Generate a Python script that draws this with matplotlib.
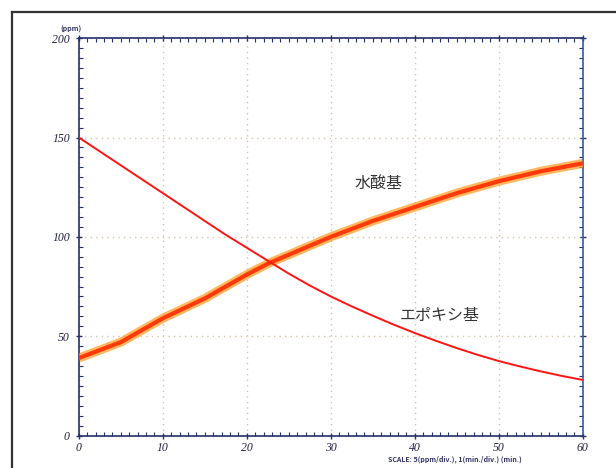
import matplotlib
matplotlib.use("Agg")
import matplotlib.pyplot as plt
from matplotlib.lines import Line2D
from matplotlib.ticker import MultipleLocator

plt.rcParams['font.family'] = ['Noto Sans CJK JP', 'DejaVu Sans']

# Reaction time (min.) and concentrations
time_min = [0, 2.5, 5, 7.5, 10, 12.5, 15, 17.5, 20, 22.5, 25, 27.5, 30,
            32.5, 35, 37.5, 40, 42.5, 45, 47.5, 50, 52.5, 55, 57.5, 60]
epoxy = [150, 143, 136, 129, 122, 115, 108, 101, 94.5, 88, 81.5, 75.5, 70,
         65, 60.3, 55.8, 51.6, 47.7, 44, 40.6, 37.5, 34.8, 32.3, 30, 28]
hydroxyl = [39, 43, 47, 53, 59, 64, 69, 75, 81, 86.5, 91, 95.5, 100,
            104, 108, 111.5, 115, 118.5, 122, 125, 128, 130.5, 133, 135,
            137]

x_ticks = [0, 10, 20, 30, 40, 50, 60]
y_ticks = [0, 50, 100, 150, 200]

fig = plt.figure(figsize=(6.16, 4.68), dpi=100)
ax = fig.add_axes([0.128, 0.0694, 0.818, 0.849])

# Hydroxyl: noisy band drawn as a thick orange/red stroke
ax.plot(time_min, hydroxyl, color='#ff9a1f', lw=6.5, alpha=0.7,
        solid_capstyle='butt', zorder=3)
ax.plot(time_min, hydroxyl, color='#ff3a0a', lw=3,
        solid_capstyle='butt', zorder=4)
# Epoxy: thin red line
ax.plot(time_min, epoxy, color='#ff1414', lw=1.4, zorder=5)

ax.set_xlim(0, 60)
ax.set_ylim(0, 200)
ax.set_xticks(x_ticks)
ax.set_yticks(y_ticks)
ax.xaxis.set_minor_locator(MultipleLocator(1))
ax.yaxis.set_minor_locator(MultipleLocator(5))

spine_col = '#24306a'
for s in ax.spines.values():
    s.set_color(spine_col)
    s.set_linewidth(1.2)
ax.spines['right'].set_color('#3558b0')

ax.tick_params(which='both', top=True, right=True, colors=spine_col)
ax.tick_params(which='major', direction='inout', length=5, width=1)
ax.tick_params(which='minor', direction='in', length=3, width=0.8)
ax.tick_params(axis='both', which='major', labelsize=8.5,
               labelcolor='#222244')
ax.tick_params(axis='x', which='major', pad=2)
ax.tick_params(axis='y', which='major', pad=4)
for lab in ax.get_xticklabels() + ax.get_yticklabels():
    lab.set_fontfamily('Liberation Serif')
    lab.set_fontstyle('italic')

ax.grid(True, which='major', linestyle=(0, (1, 3)), color='#d4c4aa', lw=1)

ax.text(35.7, 127, '水酸基', fontsize=11.5, color='#333333',
        ha='center', va='center')
ax.text(43, 60.6, 'エポキシ基', fontsize=11.5, color='#333333',
        ha='center', va='center')

fig.text(60 / 616, 1 - 29 / 468, '(ppm)', fontsize=5, fontweight='bold',
         color='#333366', ha='left', va='center')
fig.text(388 / 616, 1 - 459 / 468,
         'SCALE: 5(ppm/div.), 1(min./div.) (min.)', fontsize=5,
         fontweight='bold', color='#333366', ha='left', va='center')

# Outer scanned frame (left and top edges)
fig.add_artist(Line2D([12 / 616, 12 / 616], [0, 1 - 12 / 468],
                      transform=fig.transFigure, color='#333333', lw=1.6))
fig.add_artist(Line2D([12 / 616, 1], [1 - 12 / 468, 1 - 12 / 468],
                      transform=fig.transFigure, color='#333333', lw=1.6))

fig.savefig('out.png', dpi=100)
